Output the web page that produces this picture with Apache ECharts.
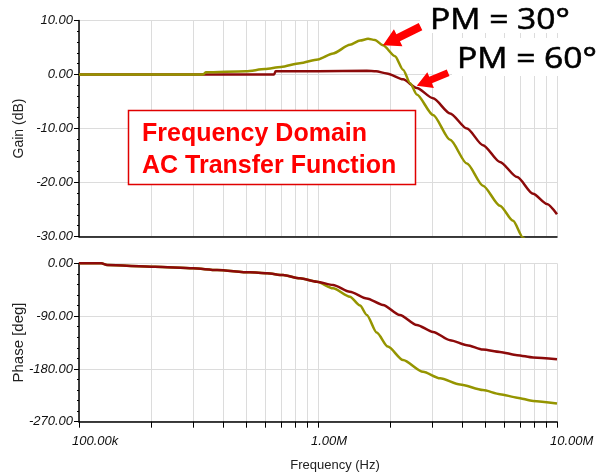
<!DOCTYPE html>
<html>
<head>
<meta charset="utf-8">
<script src="https://cdn.jsdelivr.net/npm/echarts@6/dist/echarts.min.js"></script>
<style>
  html, body { margin: 0; padding: 0; background: #ffffff; }
  #chart { width: 611px; height: 475px; }
</style>
</head>
<body>
<div id="chart"></div>
<script>
// Closed-loop Bode response for two phase margins (frequency in Hz)
var gainPM30 = [
  [1e5, 0], [3.3e5, 0], [3.4e5, 0.4], [5e5, 0.6], [6e5, 1.0], [7e5, 1.4],
  [8.4e5, 2.1], [1e6, 2.8], [1.156e6, 3.9], [1.36e6, 5.5], [1.5e6, 6.3],
  [1.62e6, 6.6], [1.73e6, 6.4], [1.87e6, 5.4], [2.1e6, 3.4], [2.27e6, 0.9],
  [2.43e6, -1.6], [2.59e6, -3.7], [3.03e6, -7.5], [3.57e6, -12.1],
  [4.2e6, -16.5], [4.9e6, -20.6], [5.77e6, -24.3], [6.55e6, -27.1],
  [7.21e6, -30.2], [7.5e6, -31]
];
var gainPM60 = [
  [1e5, 0], [6.55e5, 0], [6.65e5, 0.6], [1e6, 0.6], [1.6e6, 0.7],
  [1.75e6, 0.6], [1.94e6, 0.2], [2.27e6, -0.9], [2.59e6, -2.5],
  [3.03e6, -4.4], [3.57e6, -7.2], [4.2e6, -10.0], [4.9e6, -13.1],
  [5.77e6, -16.2], [6.81e6, -19.0], [7.94e6, -22.1], [9.08e6, -24.0],
  [1e7, -25.9]
];
var phasePM30 = [
  [1e5, 0], [1.24e5, 0], [1.31e5, -3], [2.08e5, -5.8], [3e5, -8.5],
  [3.78e5, -11.4], [5.19e5, -15.4], [6.12e5, -17], [7.14e5, -20],
  [8.41e5, -25.6], [9.9e5, -31.4], [1.156e6, -42.7], [1.36e6, -57],
  [1.5e6, -72], [1.6e6, -88], [1.76e6, -118], [1.96e6, -142],
  [2.27e6, -165], [2.75e6, -185], [3.24e6, -196], [3.93e6, -206.6],
  [4.9e6, -216], [5.77e6, -223], [6.81e6, -229], [7.94e6, -234.6],
  [1e7, -239]
];
var phasePM60 = [
  [1e5, 0], [1.24e5, 0], [1.31e5, -3], [2.08e5, -5.8], [3e5, -8.5],
  [3.78e5, -11.4], [5.19e5, -15.4], [6.12e5, -17], [7.14e5, -20],
  [8.41e5, -25.6], [9.9e5, -31.4], [1.156e6, -37], [1.36e6, -48.5],
  [1.6e6, -60], [1.87e6, -71], [2.2e6, -88], [2.59e6, -105],
  [3.03e6, -117], [3.57e6, -131], [4.2e6, -139.5], [4.9e6, -147],
  [5.77e6, -151], [6.81e6, -156.6], [7.94e6, -160.6], [1e7, -163.5]
];

// Frequency grid: every 1..9 step of each decade; labels only at decades
var freqGrid = [
  1e5, 2e5, 3e5, 4e5, 5e5, 6e5, 7e5, 8e5, 9e5,
  1e6, 2e6, 3e6, 4e6, 5e6, 6e6, 7e6, 8e6, 9e6, 1e7
];
var freqLabelValues = [1e5, 1e6, 1e7];
var freqLabelText = ['100.00k', '1.00M', '10.00M'];

// Where the phase-margin callouts point (frequency, gain dB)
var pm30Point = [1.87e6, 5.4];
var pm60Point = [2.59e6, -2.1];

var OLIVE = '#959500';
var MAROON = '#8c0a0a';
var GRID = '#dcdcdc';

var chart = echarts.init(document.getElementById('chart'));

function yLabel(v) { return v.toFixed(2); }

var commonY = {
  type: 'value',
  axisLine: { show: true, lineStyle: { color: '#000', width: 1.5 } },
  axisTick: { show: true, length: 5, lineStyle: { color: '#000' } },
  minorTick: { show: true, splitNumber: 5, length: 2, lineStyle: { color: '#000' } },
  splitLine: { show: true, lineStyle: { color: GRID, width: 1 } },
  axisLabel: {
    formatter: yLabel, fontStyle: 'italic', fontSize: 13,
    fontFamily: 'Liberation Sans', color: '#111', margin: 6
  },
  nameLocation: 'middle',
  nameMoveOverlap: false,
  nameTextStyle: { fontFamily: 'Liberation Sans', fontSize: 14, color: '#222' }
};

var commonX = {
  type: 'log', logBase: 10, min: 1e5, max: 1e7,
  axisLine: { show: true, onZero: false, lineStyle: { color: '#000', width: 1.5 } },
  splitLine: { show: true, lineStyle: { color: GRID, width: 1 } },
  minorTick: { show: false }
};

var option = {
  animation: false,
  backgroundColor: '#ffffff',
  grid: [
    { left: 79, top: 20.5, width: 478, height: 216, containLabel: false, outerBoundsMode: 'none' },
    { left: 79, top: 263.3, width: 478, height: 158.4, containLabel: false, outerBoundsMode: 'none' }
  ],
  xAxis: [
    Object.assign({}, commonX, {
      gridIndex: 0,
      axisTick: { show: false, customValues: freqGrid },
      axisLabel: { show: false }
    }),
    Object.assign({}, commonX, {
      gridIndex: 1,
      axisTick: { show: true, length: 6, customValues: freqGrid, lineStyle: { color: '#000' } },
      axisLabel: {
        show: true, customValues: freqLabelValues,
        formatter: function (v) { return freqLabelText[freqLabelValues.indexOf(v)] || ''; },
        fontStyle: 'italic', fontSize: 13, fontFamily: 'Liberation Sans',
        color: '#111', margin: 13, align: 'left', padding: [0, 0, 0, -7]
      }
    })
  ],
  yAxis: [
    Object.assign({}, commonY, {
      gridIndex: 0, min: -30, max: 10, interval: 10,
      name: 'Gain (dB)', nameGap: 53
    }),
    Object.assign({}, commonY, {
      gridIndex: 1, min: -270, max: 0, interval: 90,
      name: 'Phase [deg]', nameGap: 53,
      nameTextStyle: { fontFamily: 'Liberation Sans', fontSize: 15, color: '#222' }
    })
  ],
  series: [
    { name: 'Gain PM 60', type: 'line', xAxisIndex: 0, yAxisIndex: 0, data: gainPM60,
      showSymbol: false, smooth: 0.25, smoothMonotone: 'x', clip: true,
      lineStyle: { color: MAROON, width: 2.5 } },
    { name: 'Gain PM 30', type: 'line', xAxisIndex: 0, yAxisIndex: 0, data: gainPM30,
      showSymbol: false, smooth: 0.25, smoothMonotone: 'x', clip: true,
      lineStyle: { color: OLIVE, width: 2.5 } },
    { name: 'Phase PM 30', type: 'line', xAxisIndex: 1, yAxisIndex: 1, data: phasePM30,
      showSymbol: false, smooth: 0.25, smoothMonotone: 'x', clip: false,
      lineStyle: { color: OLIVE, width: 2.5 } },
    { name: 'Phase PM 60', type: 'line', xAxisIndex: 1, yAxisIndex: 1, data: phasePM60,
      showSymbol: false, smooth: 0.25, smoothMonotone: 'x', clip: false,
      lineStyle: { color: MAROON, width: 2.5 } }
  ]
};
chart.setOption(option);

// Filled block arrow ending at tip, coming from direction (dx, dy)
function arrowShape(tip, dx, dy, len, headLen, headW, shaftW) {
  var m = Math.sqrt(dx * dx + dy * dy);
  var ux = dx / m, uy = dy / m;       // unit vector tail -> tip
  var px = -uy, py = ux;               // perpendicular
  var tx = tip[0], ty = tip[1];
  var nx = tx - ux * headLen, ny = ty - uy * headLen;
  var bx = tx - ux * len, by = ty - uy * len;
  return [
    [bx + px * shaftW / 2, by + py * shaftW / 2],
    [nx + px * shaftW / 2, ny + py * shaftW / 2],
    [nx + px * headW / 2, ny + py * headW / 2],
    [tx, ty],
    [nx - px * headW / 2, ny - py * headW / 2],
    [nx - px * shaftW / 2, ny - py * shaftW / 2],
    [bx - px * shaftW / 2, by - py * shaftW / 2]
  ];
}

var tip30 = chart.convertToPixel({ gridIndex: 0 }, pm30Point);
var tip60 = chart.convertToPixel({ gridIndex: 0 }, pm60Point);

chart.setOption({
  graphic: [
    // callout text panels
    { type: 'rect', shape: { x: 420, y: 0, width: 191, height: 33 }, style: { fill: '#fff' }, z: 10 },
    { type: 'rect', shape: { x: 452, y: 38, width: 159, height: 38 }, style: { fill: '#fff' }, z: 10 },
    { type: 'text', x: 430, y: 20, scaleX: 1.12, z: 11,
      style: { text: 'PM = 30°', font: '30px "Open Sans"', fill: '#000', align: 'left', verticalAlign: 'middle',
               stroke: '#000', lineWidth: 0.6 } },
    { type: 'text', x: 457, y: 59, scaleX: 1.12, z: 11,
      style: { text: 'PM = 60°', font: '30px "Open Sans"', fill: '#000', align: 'left', verticalAlign: 'middle',
               stroke: '#000', lineWidth: 0.6 } },
    { type: 'polygon', z: 12, shape: { points: arrowShape(tip30, -38, 19, 42, 17, 19, 8) }, style: { fill: '#ff0000' } },
    { type: 'polygon', z: 12, shape: { points: arrowShape(tip60, -31, 13, 34, 15, 17, 7) }, style: { fill: '#ff0000' } },
    // title box
    { type: 'rect', z: 10, shape: { x: 128.5, y: 110.5, width: 287, height: 74 },
      style: { fill: '#fff', stroke: '#e00000', lineWidth: 1.5 } },
    { type: 'text', x: 142, y: 134, z: 11,
      style: { text: 'Frequency Domain', font: 'bold 25px "Liberation Sans"', fill: '#ff0000', align: 'left', verticalAlign: 'middle' } },
    { type: 'text', x: 142, y: 166, z: 11,
      style: { text: 'AC Transfer Function', font: 'bold 25px "Liberation Sans"', fill: '#ff0000', align: 'left', verticalAlign: 'middle' } },
    // frequency axis title
    { type: 'text', x: 335, y: 465, z: 11,
      style: { text: 'Frequency (Hz)', font: '13px "Liberation Sans"', fill: '#222', align: 'center', verticalAlign: 'middle' } }
  ]
});
</script>
</body>
</html>
